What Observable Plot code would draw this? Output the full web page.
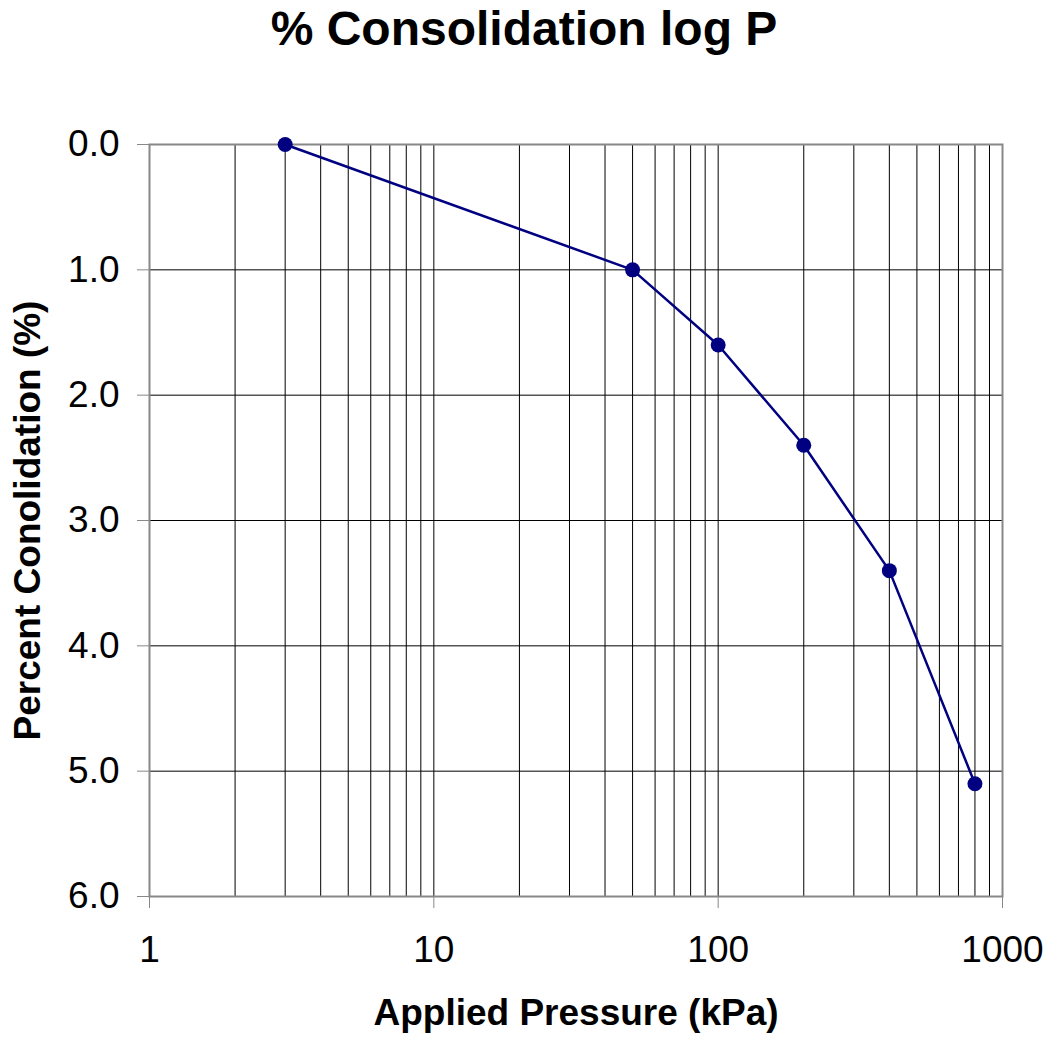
<!DOCTYPE html>
<html><head><meta charset="utf-8">
<script src="https://cdn.jsdelivr.net/npm/d3@7"></script>
<script src="https://cdn.jsdelivr.net/npm/@observablehq/plot@0.6"></script>
<style>
body{margin:0;background:#fff;font-family:"Liberation Sans",Arial,sans-serif;}
#title{width:1048px;height:98px;padding-top:2px;text-align:center;font-weight:bold;font-size:48px;line-height:54px;color:#000;}
</style></head><body>
<div id="title">% Consolidation log P</div>
<div id="chart"></div>
<script>
const pressures = [3, 50, 100, 200, 400, 800];
const consolidation = [0.0, 1.0, 1.6, 2.4, 3.4, 5.1];
const xTickValues = [1, 10, 100, 1000];
const yTickValues = [0, 1, 2, 3, 4, 5, 6];
const xGridValues = [1,2,3,4,5,6,7,8,9,10,20,30,40,50,60,70,80,90,100,200,300,400,500,600,700,800,900,1000];
const xLabel = "Applied Pressure (kPa)";
const yLabel = "Percent Conolidation (%)";

const data = pressures.map((p, i) => ({p, c: consolidation[i]}));

const chart = Plot.plot({
  width: 1048,
  height: 939,
  marginTop: 44,
  marginLeft: 149,
  marginRight: 46,
  marginBottom: 143,
  style: {fontFamily: '"Liberation Sans", Arial, sans-serif', fontSize: "37px", color: "#000", background: "#fff"},
  x: {type: "log", domain: [1, 1000]},
  y: {domain: [0, 6], reverse: true},
  marks: [
    Plot.ruleX(xGridValues, {stroke: "#000", strokeWidth: 1}),
    Plot.ruleY(yTickValues, {stroke: "#000", strokeWidth: 1}),
    Plot.frame({stroke: "#888", strokeWidth: 2}),
    Plot.axisX({ticks: xTickValues, tickFormat: d => String(d), tickSize: 12, tickPadding: 27, stroke: "#888", fill: "#000", fontSize: 37, label: null}),
    Plot.axisY({ticks: yTickValues, tickFormat: d => d.toFixed(1), tickSize: 12, tickPadding: 18, stroke: "#888", fill: "#000", fontSize: 37, label: null}),
    Plot.line(data, {x: "p", y: "c", stroke: "#000080", strokeWidth: 2.5}),
    Plot.dot(data, {x: "p", y: "c", r: 7.5, fill: "#000080", stroke: "none"}),
    Plot.text([xLabel], {text: d => d, frameAnchor: "bottom", textAnchor: "middle", lineAnchor: "middle", dy: 117, fontSize: 37, fontWeight: "bold", fill: "#000"}),
    Plot.text([yLabel], {text: d => d, frameAnchor: "left", textAnchor: "middle", lineAnchor: "middle", dx: -121, rotate: -90, fontSize: 37, fontWeight: "bold", fill: "#000"})
  ]
});
document.getElementById("chart").appendChild(chart);
</script>
</body></html>
